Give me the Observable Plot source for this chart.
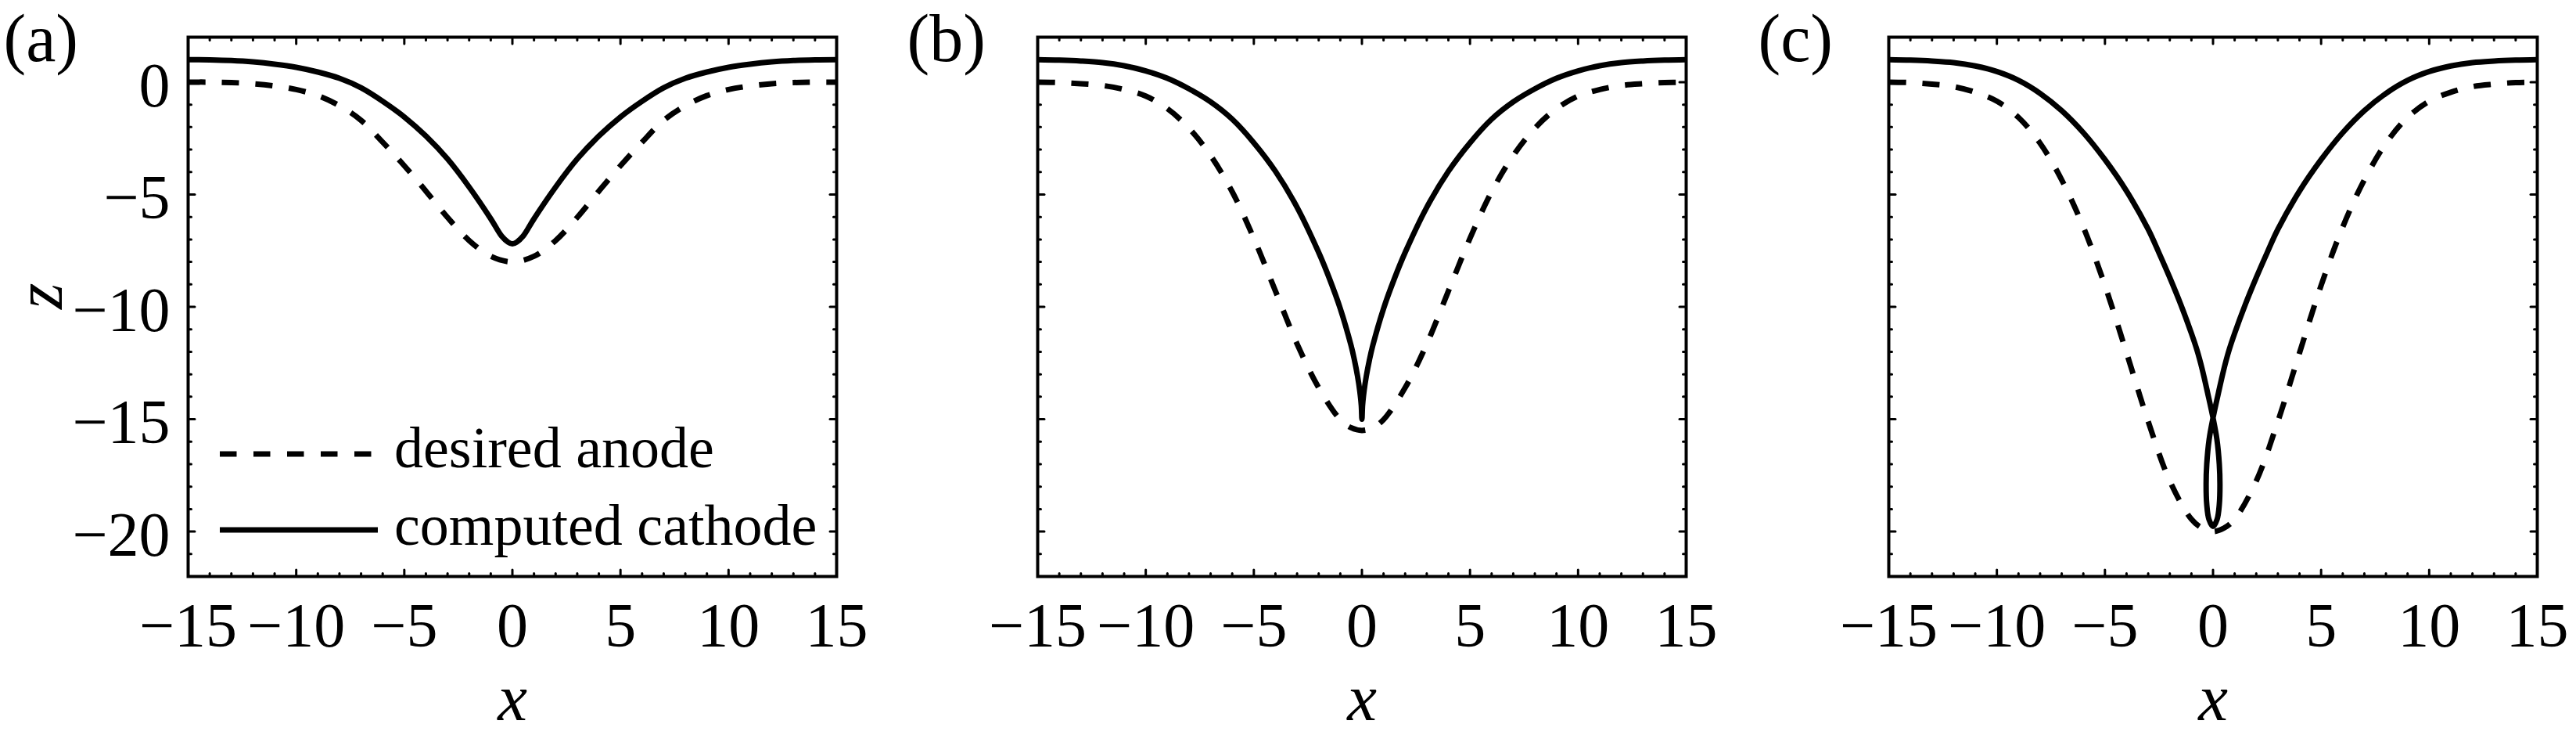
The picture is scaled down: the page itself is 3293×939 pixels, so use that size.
<!DOCTYPE html>
<html>
<head>
<meta charset="utf-8">
<script src="https://cdn.jsdelivr.net/npm/d3@7"></script>
<script src="https://cdn.jsdelivr.net/npm/@observablehq/plot@0.6"></script>
<style>
  html, body { margin: 0; padding: 0; background: #fff; }
  #fig { position: relative; width: 3293px; height: 939px; overflow: hidden; background: #fff; }
  .panel { position: absolute; top: 0; }
</style>
</head>
<body>
<div id="fig"></div>
<script>
// ---------------- data ----------------
const panelLabels = ["(a)", "(b)", "(c)"];
const legendLabels = ["desired anode", "computed cathode"];
const xTickValues = [-15, -10, -5, 0, 5, 10, 15];
const xMinorTicks = [-14, -13, -12, -11, -9, -8, -7, -6, -4, -3, -2, -1, 1, 2, 3, 4, 6, 7, 8, 9, 11, 12, 13, 14];
const yTickValues = [0, -5, -10, -15, -20];
const yMinorTicks = [1, -1, -2, -3, -4, -6, -7, -8, -9, -11, -12, -13, -14, -16, -17, -18, -19, -21];

// panel (a)
const anodeA_x = [-15,-14,-13,-12,-11,-10,-9,-8,-7,-6,-5,-4,-3,-2,-1,0,1,2,3,4,5,6,7,8,9,10,11,12,13,14,15];
const anodeA_z = [0,0,-0.02,-0.07,-0.17,-0.33,-0.6,-1.05,-1.7,-2.67,-3.72,-4.85,-6.02,-7.05,-7.75,-8.0,-7.75,-7.05,-6.02,-4.85,-3.72,-2.67,-1.7,-1.05,-0.6,-0.33,-0.17,-0.07,-0.02,0,0];
const cathodeA_x = [-15,-14,-13,-12,-11,-10,-9,-8,-7,-6,-5,-4,-3,-2,-1,-0.5,-0.2,0,0.2,0.5,1,2,3,4,5,6,7,8,9,10,11,12,13,14,15];
const cathodeA_z = [1,0.99,0.96,0.9,0.8,0.66,0.45,0.17,-0.25,-0.85,-1.55,-2.4,-3.42,-4.67,-6.08,-6.85,-7.12,-7.2,-7.12,-6.85,-6.08,-4.67,-3.42,-2.4,-1.55,-0.85,-0.25,0.17,0.45,0.66,0.8,0.9,0.96,0.99,1];

// panel (b)
const anodeB_x = [-15,-14,-13,-12,-11,-10,-9,-8,-7,-6,-5,-4,-3,-2,-1,-0.5,0,0.5,1,2,3,4,5,6,7,8,9,10,11,12,13,14,15];
const anodeB_z = [0,-0.02,-0.07,-0.15,-0.33,-0.62,-1.18,-2.05,-3.27,-4.88,-6.95,-9.3,-11.65,-13.6,-15.02,-15.38,-15.5,-15.38,-15.02,-13.6,-11.65,-9.3,-6.95,-4.88,-3.27,-2.05,-1.18,-0.62,-0.33,-0.15,-0.07,-0.02,0];
const cathodeB_x = [-15,-14,-13,-12,-11,-10,-9,-8,-7,-6,-5,-4,-3,-2,-1.5,-1,-0.5,-0.35,-0.2,-0.1,-0.03,0,
  0.03,0.1,0.2,0.35,0.5,1,1.5,2,3,4,5,6,7,8,9,10,11,12,13,14,15];
const cathodeB_z = [1,0.98,0.94,0.87,0.73,0.5,0.17,-0.3,-0.88,-1.65,-2.7,-3.97,-5.57,-7.58,-8.75,-10.08,-11.73,-12.35,-13.1,-13.74,-14.38,-15.0,
  -14.38,-13.74,-13.1,-12.35,-11.73,-10.08,-8.75,-7.58,-5.57,-3.97,-2.7,-1.65,-0.88,-0.3,0.17,0.5,0.73,0.87,0.94,0.98,1];

// panel (c)
const anodeC_x = [-15,-14,-13,-12,-11,-10,-9,-8,-7,-6,-5,-4,-3,-2,-1,-0.5,0,0.5,1,2,3,4,5,6,7,8,9,10,11,12,13,14,15];
const anodeC_z = [0,-0.02,-0.09,-0.2,-0.45,-0.85,-1.57,-2.72,-4.35,-6.45,-9.05,-12.05,-15.1,-17.75,-19.45,-19.85,-20,-19.85,-19.45,-17.75,-15.1,-12.05,-9.05,-6.45,-4.35,-2.72,-1.57,-0.85,-0.45,-0.2,-0.09,-0.02,0];
const cathodeC_x = [-15,-14,-13,-12,-11,-10,-9,-8,-7,-6,-5,-4,-3,-2.5,-2,-1.5,-1,-0.75,-0.5,-0.25,0,
  0.18,0.29,0.32,0.29,0.19,0,-0.19,-0.29,-0.32,-0.29,-0.18,0,
  0.25,0.5,0.75,1,1.5,2,2.5,3,4,5,6,7,8,9,10,11,12,13,14,15];
const cathodeC_z = [1,0.98,0.94,0.87,0.72,0.47,0.08,-0.5,-1.27,-2.25,-3.45,-4.85,-6.55,-7.6,-8.7,-9.88,-11.18,-11.9,-12.78,-13.83,-14.94,
  -15.9,-17.0,-17.9,-18.8,-19.45,-19.77,-19.45,-18.8,-17.9,-17.0,-15.9,-14.94,
  -13.83,-12.78,-11.9,-11.18,-9.88,-8.7,-7.6,-6.55,-4.85,-3.45,-2.25,-1.27,-0.5,0.08,0.47,0.72,0.87,0.94,0.98,1];

// ---------------- layout ----------------
const FONT = "'Liberation Serif', 'Times New Roman', Times, serif";
const W = 1086, H = 939;
const ML = 240, MR = 17, MT = 47, MB = 203;
const panelLeft = [0, 1086, 2174];
const labelDx = [-236, -167, -167];

const rows = (xs, zs) => xs.map((x, i) => ({x, z: zs[i]}));
const fmt = d => d < 0 ? "\u2212" + Math.abs(d) : String(d);

const tickShape = {draw(ctx, l) { ctx.moveTo(0, 0); ctx.lineTo(0, -l); }};
function tickMarks() {
  const c = {anchor: "start", shape: tickShape, stroke: "black", strokeWidth: 3};
  const out = [];
  for (const [vals, len] of [[xTickValues, 8.5], [xMinorTicks, 4]]) {
    out.push(Plot.vector(vals, {...c, x: d => d, frameAnchor: "bottom", rotate: 0, length: len}));
    out.push(Plot.vector(vals, {...c, x: d => d, frameAnchor: "top", rotate: 180, length: len}));
  }
  for (const [vals, len] of [[yTickValues, 8.5], [yMinorTicks, 4]]) {
    out.push(Plot.vector(vals, {...c, y: d => d, frameAnchor: "left", rotate: 90, length: len}));
    out.push(Plot.vector(vals, {...c, y: d => d, frameAnchor: "right", rotate: -90, length: len}));
  }
  return out;
}

const panels = [
  {anode: rows(anodeA_x, anodeA_z), cathode: rows(cathodeA_x, cathodeA_z), yLabels: true},
  {anode: rows(anodeB_x, anodeB_z), cathode: rows(cathodeB_x, cathodeB_z), yLabels: false},
  {anode: rows(anodeC_x, anodeC_z), cathode: rows(cathodeC_x, cathodeC_z), yLabels: false}
];

const fig = document.getElementById("fig");
panels.forEach((p, i) => {
  const marks = [
    Plot.line(p.anode, {x: "x", y: "z", stroke: "black", strokeWidth: 7, strokeDasharray: "22,21",
      strokeLinecap: "butt", curve: "catmull-rom", clip: true}),
    Plot.line(p.cathode, {x: "x", y: "z", stroke: "black", strokeWidth: 7, curve: "catmull-rom", clip: true}),
    Plot.frame({stroke: "black", strokeWidth: 4}),
    ...tickMarks(),
    Plot.axisX({ticks: xTickValues, tickSize: 0, tickPadding: 33, tickFormat: fmt, fontSize: 80, label: null, fill: "black"}),
    // axis title x
    Plot.text(["x"], {frameAnchor: "bottom", dy: 156.5, text: d => d, fontStyle: "italic", fontSize: 85, lineAnchor: "middle", fill: "black"}),
    // panel letter
    Plot.text([panelLabels[i]], {frameAnchor: "top-left", dx: labelDx[i], dy: 3, text: d => d, textAnchor: "start", lineAnchor: "middle", fontSize: 86, fill: "black"})
  ];
  if (p.yLabels) {
    marks.push(Plot.axisY({ticks: yTickValues, anchor: "left", tickSize: 0, tickPadding: 23, dy: 5, tickFormat: fmt, fontSize: 80, label: null, fill: "black"}));
    marks.push(Plot.text(["z"], {frameAnchor: "left", dx: -189, dy: 3, rotate: -90, text: d => d, fontStyle: "italic", fontSize: 86, lineAnchor: "middle", fill: "black"}));
  }
  const chart = Plot.plot({
    width: W, height: H,
    marginLeft: ML, marginRight: MR, marginTop: MT, marginBottom: MB,
    x: {domain: [-15, 15], axis: null},
    y: {domain: [-22, 2], axis: null},
    style: {fontFamily: FONT, fontSize: "80px", background: "transparent", overflow: "visible", maxWidth: "none", color: "black"},
    marks
  });
  const div = document.createElement("div");
  div.className = "panel";
  div.style.left = panelLeft[i] + "px";
  div.style.width = W + "px";
  div.appendChild(chart);
  fig.appendChild(div);
});

// legend (inside panel a)
const legendDash = ["21.5,21.5", null];
const legendLineY = [580, 677];
const legendTextY = [597, 696];
const leg = d3.select(fig).append("svg")
  .attr("width", 3293).attr("height", 939)
  .style("position", "absolute").style("left", "0px").style("top", "0px")
  .style("pointer-events", "none");
legendLabels.forEach((lab, i) => {
  const ln = leg.append("line")
    .attr("x1", 281).attr("x2", 483).attr("y1", legendLineY[i]).attr("y2", legendLineY[i])
    .attr("stroke", "black").attr("stroke-width", 7).attr("stroke-linecap", "butt");
  if (legendDash[i]) ln.attr("stroke-dasharray", legendDash[i]);
  leg.append("text")
    .attr("x", 504).attr("y", legendTextY[i])
    .attr("font-family", FONT).attr("font-size", 74).attr("fill", "black")
    .text(lab);
});
</script>
</body>
</html>
